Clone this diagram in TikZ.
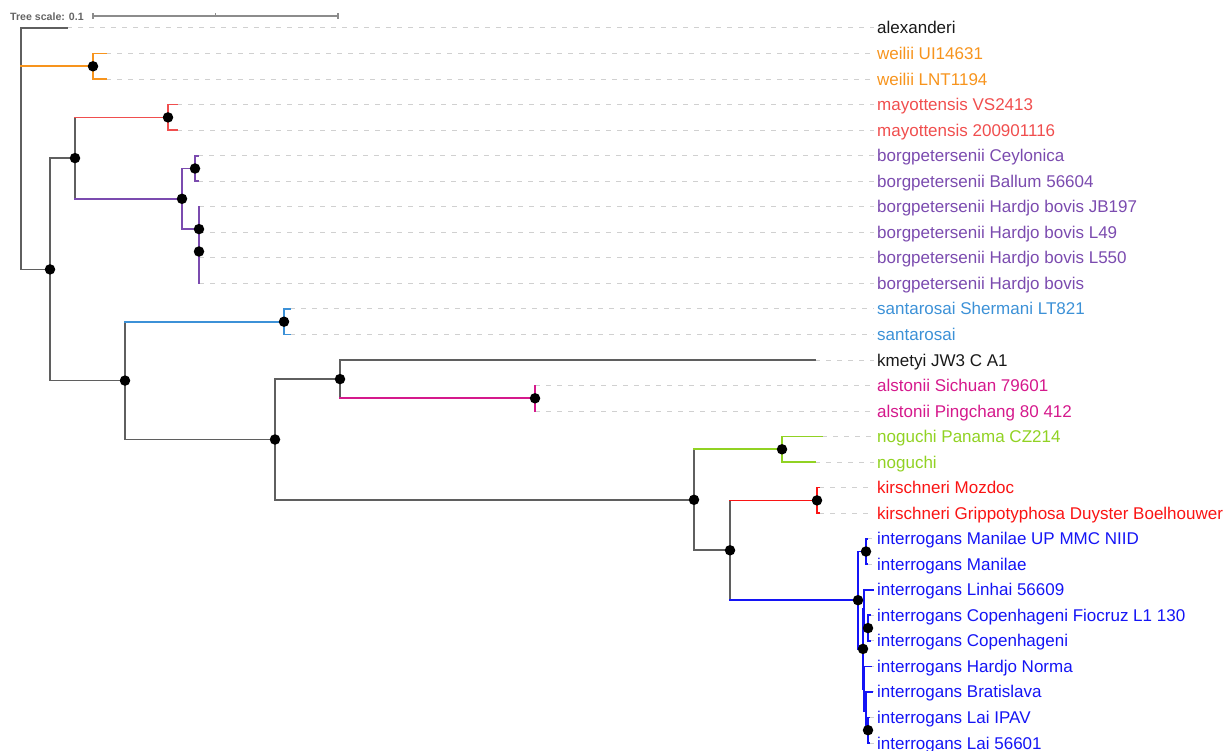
\documentclass[tikz,border=0pt]{standalone}
\usepackage{fontspec}
\setmainfont{Liberation Sans}
\definecolor{cOr}{RGB}{247,148,29}
\definecolor{cMa}{RGB}{240,78,78}
\definecolor{cBo}{RGB}{123,75,175}
\definecolor{cSa}{RGB}{60,145,215}
\definecolor{cAl}{RGB}{213,25,140}
\definecolor{cNo}{RGB}{145,210,35}
\definecolor{cKi}{RGB}{250,20,20}
\definecolor{cIn}{RGB}{20,20,245}
\definecolor{cTr}{RGB}{95,95,95}
\definecolor{cDa}{RGB}{208,208,208}
\definecolor{cSc}{RGB}{140,140,140}
\definecolor{cSt}{RGB}{100,100,100}
\definecolor{cTx}{RGB}{25,25,25}
\newcommand\leaf[5]{%
  \coordinate (L#1) at (#2,#3);
  \coordinate (E#1) at (874,#3);
  \draw[lf] (L#1) -- (E#1);
  \node[lab,text=#4] (T#1) at (877,#3+6) {#5};}
\newcommand\clade[4]{\draw[br,#2] (#1 |- #3) -- (#1 |- #4);}
\newcommand\twig[3]{\draw[br,#3] (#1 |- #2) -- (#2);}
\begin{document}
\begin{tikzpicture}[x=1pt,y=-1pt,
  br/.style={line width=1.7pt,line cap=rect},
  lf/.style={dash pattern=on 5pt off 6pt,draw=cDa,line width=1pt},
  lab/.style={anchor=base west,inner sep=0pt,font=\fontsize{17}{20}\selectfont},
  dot/.style={circle,fill=black,inner sep=0pt,minimum size=10.5pt},
  sc/.style={draw=cSc,line width=1.2pt}]
\useasboundingbox (0,0) rectangle (1223,751);
% scale bar
\node[anchor=west,inner sep=0pt,text=cSt,font=\bfseries\fontsize{10.6}{12}\selectfont] (ts) at (10,16.5) {Tree scale: 0.1};
\coordinate (s0) at (93,16);
\coordinate (s1) at (338,16);
\coordinate (sm) at (215.5,16);
\draw[sc] (s0) -- (s1);
\draw[sc] ([yshift=-2.7pt]s0) -- ([yshift=2.7pt]s0);
\draw[sc] ([yshift=-2.7pt]s1) -- ([yshift=2.7pt]s1);
\draw[sc] (sm) -- ([yshift=2.5pt]sm);
% leaves
\leaf{0}{67}{28}{cTx}{alexanderi}
\leaf{1}{106}{53.5}{cOr}{weilii UI14631}
\leaf{2}{106}{79.1}{cOr}{weilii LNT1194}
\leaf{3}{177}{104.6}{cMa}{mayottensis VS2413}
\leaf{4}{177}{130.1}{cMa}{mayottensis 200901116}
\leaf{5}{198}{155.7}{cBo}{borgpetersenii Ceylonica}
\leaf{6}{198}{181.2}{cBo}{borgpetersenii Ballum 56604}
\leaf{7}{199}{206.8}{cBo}{borgpetersenii Hardjo bovis JB197}
\leaf{8}{199}{232.3}{cBo}{borgpetersenii Hardjo bovis L49}
\leaf{9}{199}{257.8}{cBo}{borgpetersenii Hardjo bovis L550}
\leaf{10}{199}{283.4}{cBo}{borgpetersenii Hardjo bovis}
\leaf{11}{290}{308.9}{cSa}{santarosai Shermani LT821}
\leaf{12}{290}{334.4}{cSa}{santarosai}
\leaf{13}{815}{360}{cTx}{kmetyi JW3 C A1}
\leaf{14}{535}{385.5}{cAl}{alstonii Sichuan 79601}
\leaf{15}{535}{411}{cAl}{alstonii Pingchang 80 412}
\leaf{16}{822}{436.6}{cNo}{noguchi Panama CZ214}
\leaf{17}{815}{462.1}{cNo}{noguchi}
\leaf{18}{819}{487.6}{cKi}{kirschneri Mozdoc}
\leaf{19}{819}{513.2}{cKi}{kirschneri Grippotyphosa Duyster Boelhouwer}
\leaf{20}{867}{538.7}{cIn}{interrogans Manilae UP MMC NIID}
\leaf{21}{867}{564.3}{cIn}{interrogans Manilae}
\leaf{22}{873}{589.8}{cIn}{interrogans Linhai 56609}
\leaf{23}{870}{615.3}{cIn}{interrogans Copenhageni Fiocruz L1 130}
\leaf{24}{870}{640.9}{cIn}{interrogans Copenhageni}
\leaf{25}{871}{666.4}{cIn}{interrogans Hardjo Norma}
\leaf{26}{872}{691.9}{cIn}{interrogans Bratislava}
\leaf{27}{869}{717.5}{cIn}{interrogans Lai IPAV}
\leaf{28}{869}{743}{cIn}{interrogans Lai 56601}
% internal nodes
\coordinate (R) at (21,28);
\coordinate (W) at (93,66.3);
\coordinate (G) at (50,269.4);
\coordinate (MB) at (75,158.1);
\coordinate (M) at (168,117.4);
\coordinate (BR) at (182,198.8);
\coordinate (BC) at (195,168.5);
\coordinate (A) at (199,229.1);
\coordinate (B) at (199,251.5);
\coordinate (C) at (199,270.6);
\coordinate (SK) at (125,380.6);
\coordinate (S) at (284,321.7);
\coordinate (KN) at (275,439.5);
\coordinate (K) at (340,379.1);
\coordinate (AL) at (535,398.3);
\coordinate (NK) at (694,499.8);
\coordinate (N) at (782,449.3);
\coordinate (KIN) at (730,550.3);
\coordinate (KI) at (817,500.4);
\coordinate (I0) at (858,600.2);
\coordinate (Man) at (866,551.5);
\coordinate (I2) at (863,648.9);
\coordinate (X) at (864,609.0);
\coordinate (Cop) at (868,628.1);
\coordinate (Y) at (864,688.7);
\coordinate (Z) at (866,711.1);
\coordinate (Lai) at (868,730.2);
% verticals
\clade{R}{cTr}{L0}{G}
\clade{W}{cOr}{L1}{L2}
\clade{G}{cTr}{MB}{SK}
\clade{MB}{cTr}{M}{BR}
\clade{M}{cMa}{L3}{L4}
\clade{BR}{cBo}{BC}{A}
\clade{BC}{cBo}{L5}{L6}
\clade{A}{cBo}{L7}{B}
\clade{B}{cBo}{L8}{C}
\clade{C}{cBo}{L9}{L10}
\clade{SK}{cTr}{S}{KN}
\clade{S}{cSa}{L11}{L12}
\clade{KN}{cTr}{K}{NK}
\clade{K}{cTr}{L13}{AL}
\clade{AL}{cAl}{L14}{L15}
\clade{NK}{cTr}{N}{KIN}
\clade{N}{cNo}{L16}{L17}
\clade{KIN}{cTr}{KI}{I0}
\clade{KI}{cKi}{L18}{L19}
\clade{I0}{cIn}{Man}{I2}
\clade{Man}{cIn}{L20}{L21}
\clade{I2}{cIn}{X}{Y}
\clade{X}{cIn}{L22}{Cop}
\clade{Cop}{cIn}{L23}{L24}
\clade{Y}{cIn}{L25}{Z}
\clade{Z}{cIn}{L26}{Lai}
\clade{Lai}{cIn}{L27}{L28}
% horizontals
\twig{R}{L0}{cTr}
\twig{R}{W}{cOr}
\twig{R}{G}{cTr}
\twig{W}{L1}{cOr}
\twig{W}{L2}{cOr}
\twig{G}{MB}{cTr}
\twig{G}{SK}{cTr}
\twig{MB}{M}{cMa}
\twig{MB}{BR}{cBo}
\twig{M}{L3}{cMa}
\twig{M}{L4}{cMa}
\twig{BR}{BC}{cBo}
\twig{BR}{A}{cBo}
\twig{BC}{L5}{cBo}
\twig{BC}{L6}{cBo}
\twig{SK}{S}{cSa}
\twig{SK}{KN}{cTr}
\twig{S}{L11}{cSa}
\twig{S}{L12}{cSa}
\twig{KN}{K}{cTr}
\twig{KN}{NK}{cTr}
\twig{K}{L13}{cTr}
\twig{K}{AL}{cAl}
\twig{NK}{N}{cNo}
\twig{NK}{KIN}{cTr}
\twig{N}{L16}{cNo}
\twig{N}{L17}{cNo}
\twig{KIN}{KI}{cKi}
\twig{KIN}{I0}{cIn}
\twig{KI}{L18}{cKi}
\twig{KI}{L19}{cKi}
\twig{I0}{Man}{cIn}
\twig{I0}{I2}{cIn}
\twig{Man}{L20}{cIn}
\twig{Man}{L21}{cIn}
\twig{I2}{X}{cIn}
\twig{I2}{Y}{cIn}
\twig{X}{L22}{cIn}
\twig{X}{Cop}{cIn}
\twig{Cop}{L23}{cIn}
\twig{Cop}{L24}{cIn}
\twig{Y}{L25}{cIn}
\twig{Y}{Z}{cIn}
\twig{Z}{L26}{cIn}
\twig{Z}{Lai}{cIn}
\twig{Lai}{L27}{cIn}
\twig{Lai}{L28}{cIn}
% support dots
\foreach \n in {W,G,MB,M,BR,BC,A,B,SK,S,KN,K,AL,NK,N,KIN,KI,I0,Man,I2,Cop,Lai}
  \node[dot] (d\n) at (\n) {};
\end{tikzpicture}
\end{document}
